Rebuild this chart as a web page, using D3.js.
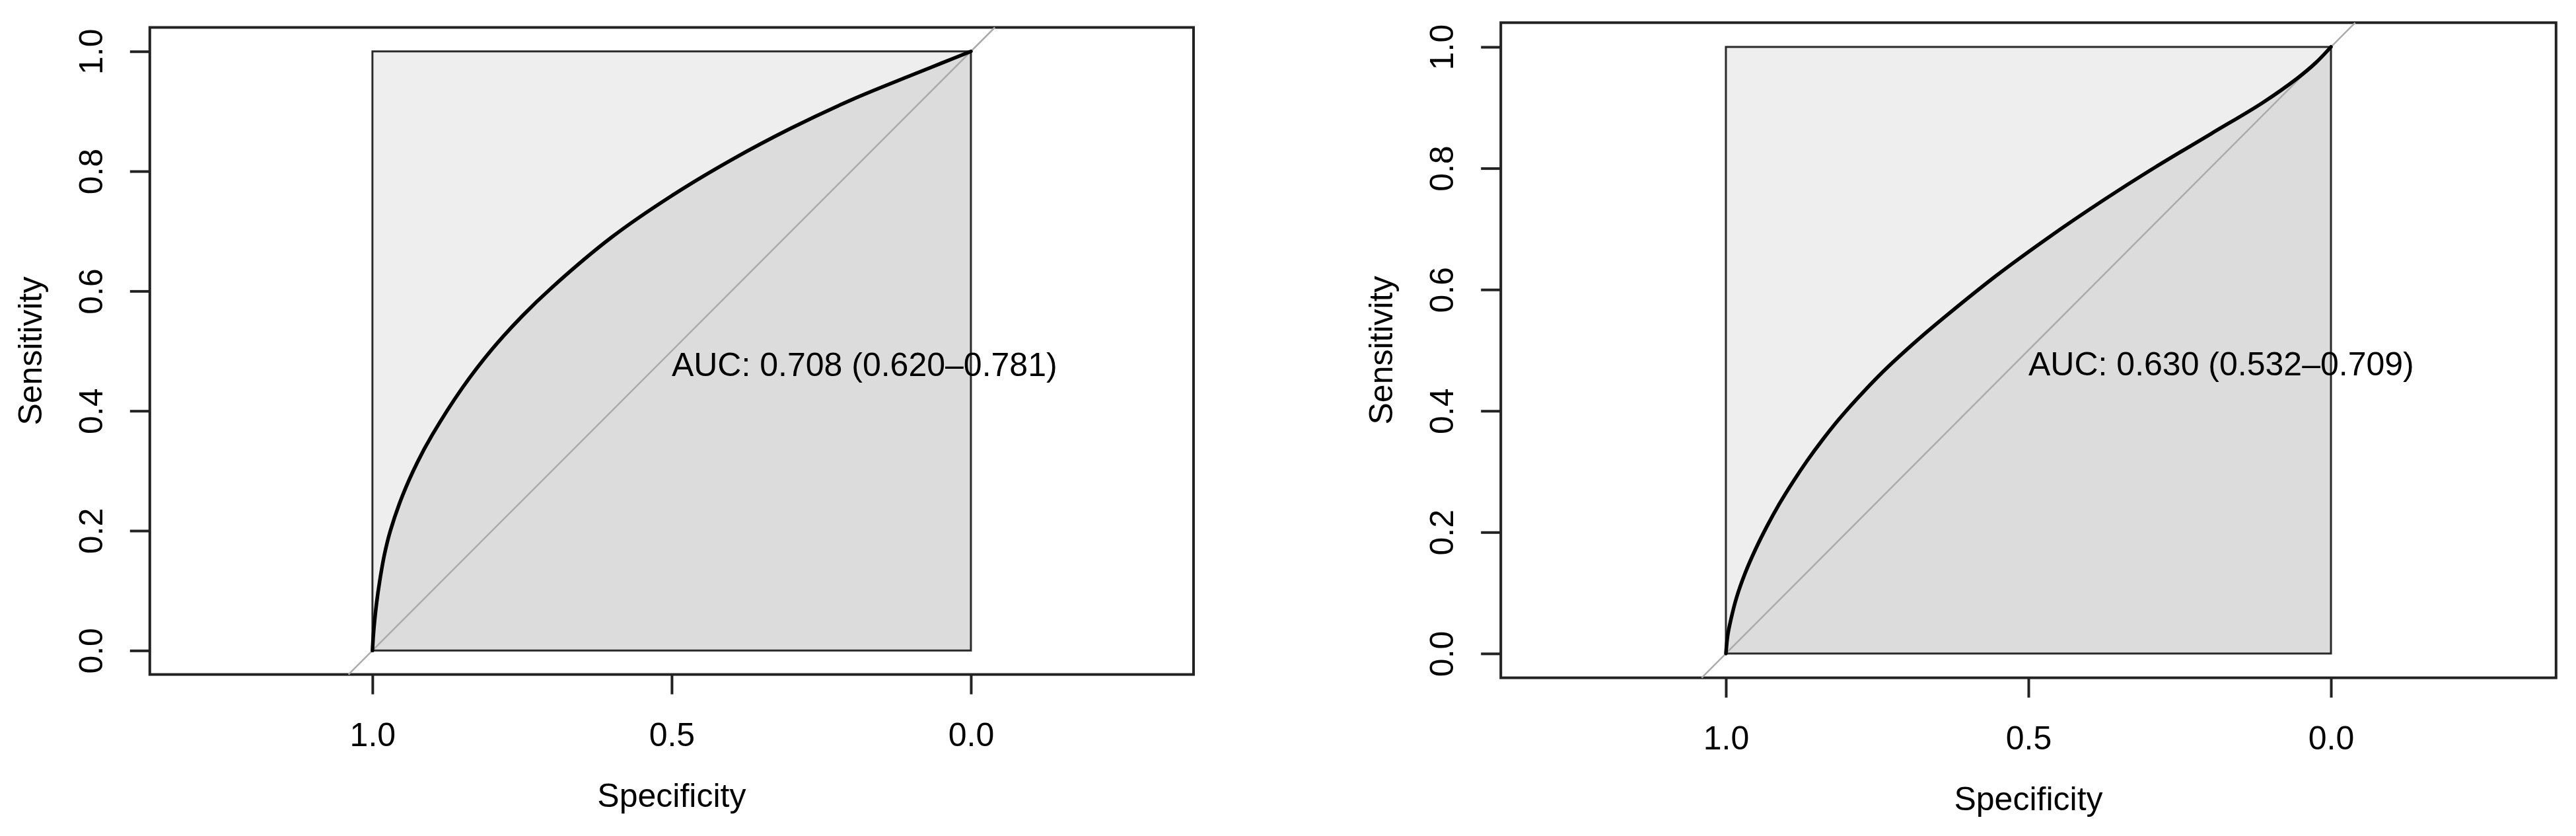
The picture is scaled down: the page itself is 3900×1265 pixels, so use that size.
<!DOCTYPE html>
<html><head><meta charset="utf-8">
<script src="https://cdn.jsdelivr.net/npm/d3@7"></script>
<style>
html,body{margin:0;padding:0;background:#fff;}
svg{display:block;}
text{font-family:"Liberation Sans",Arial,Helvetica,sans-serif;fill:#000;}
</style>
</head><body>
<svg id="chart" width="3900" height="1265"></svg>
<script>
// ---- data ----
const leftSpec = [1.000, 0.9985, 0.9965, 0.993, 0.988, 0.980, 0.970, 0.950, 0.925, 0.900, 0.850, 0.800, 0.750, 0.700, 0.600, 0.500, 0.400, 0.300, 0.200, 0.100, 0.050, 0.000];
const leftSens = [0.000, 0.025, 0.048, 0.080, 0.115, 0.160, 0.200, 0.258, 0.314, 0.360, 0.438, 0.503, 0.558, 0.606, 0.690, 0.759, 0.819, 0.872, 0.919, 0.960, 0.980, 1.000];
const rightSpec = [1.000, 0.997, 0.992, 0.9825, 0.968, 0.951, 0.932, 0.9115, 0.8885, 0.8656, 0.8405, 0.8133, 0.786, 0.741, 0.690, 0.638, 0.553, 0.468, 0.375, 0.290, 0.198, 0.113, 0.056, 0.025, 0.000];
const rightSens = [0.000, 0.030, 0.055, 0.092, 0.133, 0.172, 0.210, 0.247, 0.284, 0.318, 0.352, 0.386, 0.417, 0.464, 0.511, 0.555, 0.623, 0.685, 0.748, 0.802, 0.857, 0.908, 0.948, 0.974, 1.000];
const aucLabels = ["AUC: 0.708 (0.620\u20130.781)", "AUC: 0.630 (0.532\u20130.709)"];
const yTicks = [0.0, 0.2, 0.4, 0.6, 0.8, 1.0];
const xTicks = [1.0, 0.5, 0.0];
const xLabel = "Specificity";
const yLabel = "Sensitivity";

// ---- layout (pixels) ----
const layout = [
  {left: 226.8, right: 1807, top: 41.5, bottom: 1020.6},
  {left: 2272.2, right: 3869.8, top: 34.3, bottom: 1025.6}
];
const xDomain = [1.372, -0.372];
const yDomain = [-0.04, 1.04];

const panels = [
  {spec: leftSpec, sens: leftSens, auc: aucLabels[0]},
  {spec: rightSpec, sens: rightSens, auc: aucLabels[1]}
];

const svg = d3.select("#chart");
const FS = 50;

panels.forEach((p, i) => {
  const box = layout[i];
  const x = d3.scaleLinear().domain(xDomain).range([box.left, box.right]);
  const y = d3.scaleLinear().domain(yDomain).range([box.bottom, box.top]);
  const g = svg.append("g");
  const pts = p.spec.map((s, k) => ({spec: s, sens: p.sens[k]}));
  const curve = d3.curveCatmullRom.alpha(0.5);

  // max AUC polygon
  g.append("rect")
    .attr("x", x(1)).attr("y", y(1))
    .attr("width", x(0) - x(1)).attr("height", y(0) - y(1))
    .attr("fill", "#eeeeee");

  // AUC polygon
  const area = d3.area()
    .x(d => x(d.spec)).y0(y(0)).y1(d => y(d.sens))
    .curve(curve);
  g.append("path").datum(pts).attr("d", area).attr("fill", "#dcdcdc");

  // border of max AUC polygon
  g.append("rect")
    .attr("x", x(1)).attr("y", y(1))
    .attr("width", x(0) - x(1)).attr("height", y(0) - y(1))
    .attr("fill", "none").attr("stroke", "#2a2a2a").attr("stroke-width", 3);

  // plot frame
  const [rx0, rx1] = x.range(), [ry0, ry1] = y.range();
  g.append("rect")
    .attr("x", rx0).attr("y", ry1)
    .attr("width", rx1 - rx0).attr("height", ry0 - ry1)
    .attr("fill", "none").attr("stroke", "#222").attr("stroke-width", 4);

  // y axis
  const yAxis = d3.axisLeft(y).tickValues(yTicks).tickFormat(d3.format(".1f")).tickSize(30).tickSizeOuter(0);
  g.append("g").attr("transform", `translate(${rx0},0)`).call(yAxis)
    .call(a => a.select(".domain").remove())
    .call(a => a.selectAll("line").attr("stroke", "#222").attr("stroke-width", 4))
    .call(a => a.selectAll("text")
      .attr("x", null).attr("dy", null)
      .attr("transform", "translate(-72,0) rotate(-90)")
      .attr("text-anchor", "middle")
      .attr("font-size", FS).attr("fill", "#000"));

  // x axis
  const xAxis = d3.axisBottom(x).tickValues(xTicks).tickFormat(d3.format(".1f")).tickSize(30).tickSizeOuter(0);
  g.append("g").attr("transform", `translate(0,${ry0})`).call(xAxis)
    .call(a => a.select(".domain").remove())
    .call(a => a.selectAll("line").attr("stroke", "#222").attr("stroke-width", 4))
    .call(a => a.selectAll("text")
      .attr("y", 108).attr("dy", null)
      .attr("font-size", FS).attr("fill", "#000"));

  // identity line
  const diag = [
    {spec: 1 - yDomain[0], sens: yDomain[0]},
    {spec: 1 - yDomain[1], sens: yDomain[1]}
  ];
  g.append("path").datum(diag)
    .attr("d", d3.line().x(d => x(d.spec)).y(d => y(d.sens)))
    .attr("fill", "none").attr("stroke", "#ababab").attr("stroke-width", 2.5);

  // ROC curve
  g.append("path").datum(pts)
    .attr("d", d3.line().x(d => x(d.spec)).y(d => y(d.sens)).curve(curve))
    .attr("fill", "none").attr("stroke", "#000").attr("stroke-width", 5.5)
    .attr("stroke-linejoin", "round").attr("stroke-linecap", "round");

  // AUC text
  g.append("text")
    .attr("x", x(0.5)).attr("y", y(0.5) + 38)
    .attr("font-size", FS)
    .text(p.auc);

  // axis titles
  g.append("text")
    .attr("x", (rx0 + rx1) / 2).attr("y", ry0 + 200)
    .attr("text-anchor", "middle").attr("font-size", FS)
    .text(xLabel);
  g.append("text")
    .attr("transform", `translate(${rx0 - 164},${(ry0 + ry1) / 2}) rotate(-90)`)
    .attr("text-anchor", "middle").attr("font-size", FS)
    .text(yLabel);
});
</script>
</body></html>
